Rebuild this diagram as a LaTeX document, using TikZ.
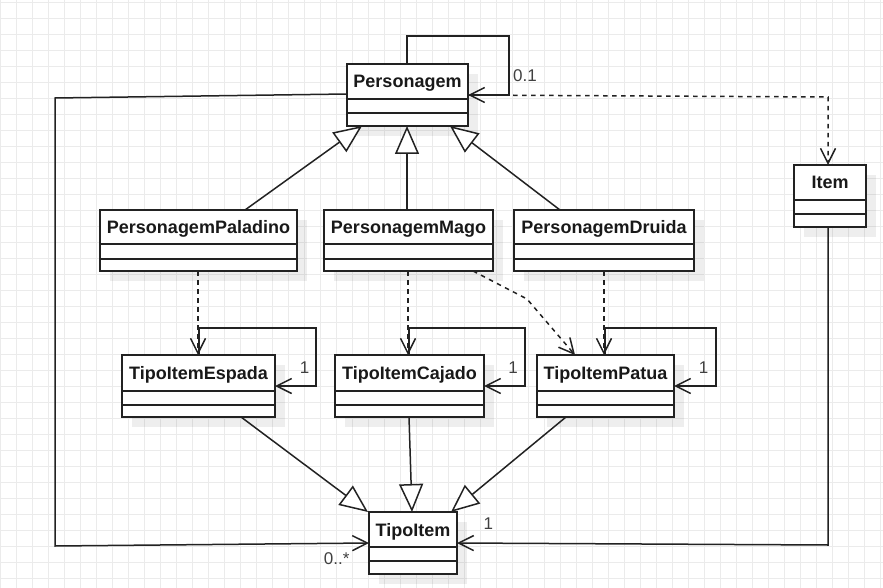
\documentclass[tikz,border=0pt]{standalone}
\usepackage{fontspec}
\setmainfont{Liberation Sans}
\usetikzlibrary{arrows.meta}
\definecolor{gridc}{HTML}{EBEBEB}
\definecolor{linec}{HTML}{222222}
\definecolor{lblc}{HTML}{404040}
\tikzset{
  cls/.style={draw=linec, line width=1.5pt, fill=white, inner sep=0pt, outer sep=0pt, anchor=north west},
  clsname/.style={font=\bfseries\fontsize{18pt}{21pt}\selectfont, text=black!90, inner sep=0pt, anchor=base},
  shadowbox/.style={fill=black, fill opacity=0.065},
  divider/.style={draw=linec, line width=1.5pt},
  conn/.style={draw=linec, line width=1.5pt},
  genl/.style={conn, -{Triangle[open, length=28pt, width=24pt, fill=white]}},
  assoc/.style={conn, -{Straight Barb[length=15pt, width=15pt]}},
  dep/.style={conn, dash pattern=on 4.5pt off 4.5pt, -{Straight Barb[length=15pt, width=15pt]}},
  mult/.style={font=\fontsize{17pt}{20pt}\selectfont, text=lblc, inner sep=0pt}
}
\newcommand{\clsbox}[8]{%
  \fill[shadowbox] (#2+10,#3+10) rectangle (#4+10,#5+10);
  \node[cls, minimum width={(#4-#2)*1pt}, minimum height={(#5-#3)*1pt}] (#1) at (#2,#3) {};
  \draw[divider] (#2,#6) -- (#4,#6) (#2,#7) -- (#4,#7);
  \node[clsname] (#1-t) at ({(#2+#4)/2},{(#3+#6)/2+6.5}) {#8};
}
\begin{document}
\begin{tikzpicture}[x=1pt, y=-1pt]
\useasboundingbox (0,0) rectangle (883,588);
% grid
\foreach \i in {0,...,55} \draw[gridc, line width=1pt] (0.5+16*\i,0) -- (0.5+16*\i,588);
\foreach \j in {0,...,36} \draw[gridc, line width=1pt] (0,2.3+16*\j) -- (883,2.3+16*\j);
% classes
\clsbox{per}{347}{64}{468}{126}{99}{113}{Personagem}
\clsbox{pal}{100}{210}{297}{271}{244}{259}{PersonagemPaladino}
\clsbox{mago}{324}{210}{493}{271}{244}{259}{PersonagemMago}
\clsbox{dru}{514}{210}{694}{271}{244}{259}{PersonagemDruida}
\clsbox{item}{794}{165}{866}{227}{200}{214}{Item}
\clsbox{esp}{122}{355}{275}{417}{391}{405}{TipoItemEspada}
\clsbox{caj}{335}{355}{484}{417}{391}{405}{TipoItemCajado}
\clsbox{pat}{537}{355}{674}{417}{391}{405}{TipoItemPatua}
\clsbox{ti}{369}{512}{457}{574}{547}{561}{TipoItem}
% generalizations
\draw[genl] (245,0 |- pal.north) -- (362,0 |- per.south);
\draw[genl] (407,0 |- mago.north) -- (407,0 |- per.south);
\draw[genl] (560,0 |- dru.north) -- (450,0 |- per.south);
\draw[genl] (241,0 |- esp.south) -- (368,0 |- ti.north);
\draw[genl] (409,0 |- caj.south) -- (412,0 |- ti.north);
\draw[genl] (566,0 |- pat.south) -- (451,0 |- ti.north);
% dependencies
\coordinate (bend) at (527,299);
\coordinate (itemc) at (828,97);
\draw[dep] (198,0 |- pal.south) -- (198,0 |- esp.north);
\draw[dep] (408,0 |- mago.south) -- (408,0 |- caj.north);
\draw[dep] (473,0 |- mago.south) -- (bend) -- (575,0 |- pat.north);
\draw[dep] (604,0 |- dru.south) -- (604,0 |- pat.north);
\draw[dep] (0,95 -| per.east) -- (itemc) -- (828,0 |- item.north);
% self associations
\coordinate (pl1) at (407,36); \coordinate (pl2) at (509,36); \coordinate (pl3) at (509,95);
\draw[assoc] (407,0 |- per.north) -- (pl1) -- (pl2) -- (pl3) -- (0,95 -| per.east);
\node[mult] (m-per) at (525,76) {0.1};
\coordinate (el1) at (199,328); \coordinate (el2) at (316,328); \coordinate (el3) at (316,386);
\draw[assoc] (199,0 |- esp.north) -- (el1) -- (el2) -- (el3) -- (0,386 -| esp.east);
\node[mult] (m-esp) at (304.5,367.5) {1};
\coordinate (cl1) at (409,328); \coordinate (cl2) at (525,328); \coordinate (cl3) at (525,386);
\draw[assoc] (409,0 |- caj.north) -- (cl1) -- (cl2) -- (cl3) -- (0,386 -| caj.east);
\node[mult] (m-caj) at (513,367.5) {1};
\coordinate (tl1) at (605,328); \coordinate (tl2) at (716,328); \coordinate (tl3) at (716,386);
\draw[assoc] (605,0 |- pat.north) -- (tl1) -- (tl2) -- (tl3) -- (0,386 -| pat.east);
\node[mult] (m-pat) at (703.7,367.5) {1};
% associations to TipoItem
\coordinate (al1) at (55,98); \coordinate (al2) at (55,546);
\draw[assoc] (0,94 -| per.west) -- (al1) -- (al2) -- (0,543 -| ti.west);
\node[mult] (m-ti1) at (336.7,559) {0..*};
\coordinate (ar1) at (828,545);
\draw[assoc] (828,0 |- item.south) -- (ar1) -- (0,543 -| ti.east);
\node[mult] (m-ti2) at (488.3,524) {1};
\end{tikzpicture}
\end{document}
